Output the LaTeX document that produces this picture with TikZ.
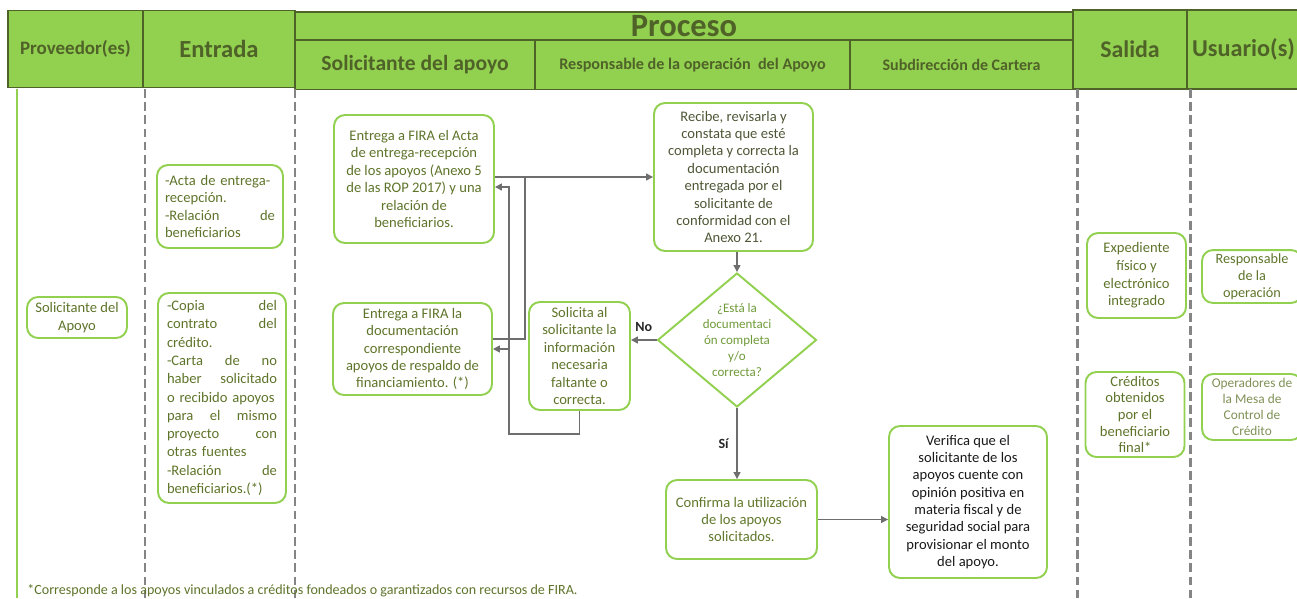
\documentclass[tikz,border=0pt]{standalone}
\usepackage{fontspec}
\setmainfont{Carlito}
\usepackage{tikz}
\usetikzlibrary{positioning, shapes.geometric, arrows.meta}
\definecolor{hdrfill}{HTML}{92D050}
\definecolor{hdrline}{HTML}{4F6228}
\definecolor{boxline}{HTML}{92D050}
\definecolor{olive}{HTML}{5E742A}
\definecolor{darkolive}{HTML}{4E5636}
\definecolor{lightolive}{HTML}{6F9A38}
\definecolor{conngray}{HTML}{6E6E6E}
\definecolor{lanegray}{HTML}{858585}

\begin{document}
\begin{tikzpicture}[x=0.02cm, y=-0.02cm,
    hdr/.style={draw=hdrline, fill=hdrfill, line width=1.1pt, inner sep=0pt, text=hdrline, font=\bfseries\fontsize{#1}{#1}\selectfont}, % celdas del encabezado
    box/.style={draw=boxline, line width=1.1pt, rounded corners=0.22cm, align=center, inner sep=2pt, text=olive, font=\fontsize{8.3}{9.9}\selectfont},
    lane/.style={draw=lanegray, line width=1.7pt, dash pattern=on 5pt off 2.5pt},
    link/.style={draw=conngray, line width=0.8pt},
    linkarr/.style={link, -{Triangle[length=4pt,width=4pt]}},
    lbl/.style={font=\bfseries\fontsize{8}{9}\selectfont, text=black!85}
    ]
\useasboundingbox (0,0) rectangle (1297,598);

% encabezado
\node[hdr=10.8, minimum width=2.7cm, minimum height=1.54cm] (hprov) at (75.5,49) {Proveedor(es)};
\node[hdr=14, minimum width=3.04cm, minimum height=1.54cm] (hent) at (219,49) {Entrada};
\node[hdr=18.5, minimum width=15.56cm, minimum height=0.56cm] (hproc) at (684,26) {Proceso};
\node[hdr=12.3, minimum width=4.8cm, minimum height=0.98cm] (hsol) at (415,65) {Solicitante del apoyo};
\node[hdr=9.2, minimum width=6.3cm, minimum height=0.98cm] (hresp) at (692.5,65) {Responsable de la operación\ \ del Apoyo};
\node[hdr=9.1, minimum width=4.46cm, minimum height=0.98cm] (hsub) at (961.5,65) {Subdirección\ de Cartera};
\node[hdr=13.6, minimum width=2.28cm, minimum height=1.57cm] (hsal) at (1130,49.5) {Salida};
\node[hdr=13.8, minimum width=2.26cm, minimum height=1.57cm] (husr) at (1243.5,49.5) {Usuario(s)};

% carriles
\draw[boxline, line width=1.1pt] (17,89) -- (17,598);
\draw[lane] (145,89) -- (145,598);
\draw[lane] (295,89) -- (295,598);
\draw[lane] (1077,89) -- (1077,598);
\draw[lane] (1190,89) -- (1190,598);

\node[box, minimum width=2cm, minimum height=0.82cm] (prov) at (77,317.5) {Solicitante del\\Apoyo};

\node[box, align=left, text width=2.2cm, inner xsep=0.16cm, minimum height=1.66cm] (in1) at (220,206.5)
  {-Acta de entrega-\\recepción.\\-Relación\hfill de\\beneficiarios};
\node[box, align=left, text width=2.2cm, inner xsep=0.18cm, minimum height=4.2cm, font=\fontsize{8.3}{10.4}\selectfont] (in2) at (222,398)
  {-Copia\hfill del\\contrato\hfill del\\crédito.\\-Carta\hfill de\hfill no\\haber\hfill solicitado\\o recibido apoyos\\para\hfill el\hfill mismo\\proyecto\hfill con\\otras fuentes\\-Relación\hfill de\\beneficiarios.(*)};

\node[box, minimum width=3.2cm, minimum height=2.56cm] (entrega1) at (414,179)
  {Entrega a FIRA el Acta\\de entrega-recepción\\de los apoyos (Anexo 5\\de las ROP 2017) y una\\relación de\\beneficiarios.};
\node[box, minimum width=3.18cm, minimum height=1.84cm] (entrega2) at (412.5,349)
  {Entrega a FIRA la\\documentación\\correspondiente\\apoyos de respaldo de\\financiamiento. (*)};
\node[box, minimum width=2.02cm, minimum height=2.16cm] (solicita) at (579.5,356)
  {Solicita al\\solicitante la\\información\\necesaria\\faltante o\\correcta.};
\node[box, text=darkolive, inner xsep=1pt, minimum width=3.18cm, minimum height=2.96cm] (recibe) at (733.5,177)
  {Recibe, revisarla y\\constata que esté\\completa y correcta la\\documentación\\entregada por el\\solicitante de\\conformidad con el\\Anexo 21.};
\node[box, diamond, rounded corners=0pt, shape aspect=1.2, inner sep=0pt, minimum width=3.18cm, minimum height=2.68cm,
  text=lightolive, font=\fontsize{7.4}{9}\selectfont] (decide) at (737,340)
  {¿Está la\\documentaci\\ón completa\\y/o\\correcta?};
\node[box, text=olive!90!lightolive, minimum width=3.02cm, minimum height=1.58cm] (confirma) at (741.5,519.5)
  {Confirma la utilización\\de los apoyos\\solicitados.};
\node[box, text=black!90, minimum width=3.16cm, minimum height=3.04cm] (verifica) at (968,502)
  {Verifica que el\\solicitante de los\\apoyos cuente con\\opinión positiva en\\materia fiscal y de\\seguridad social para\\provisionar el monto\\del apoyo.};

\node[box, minimum width=1.98cm, minimum height=1.7cm, font=\fontsize{8.3}{10}\selectfont] (expediente) at (1136.5,275.5)
  {Expediente\\físico y\\electrónico\\integrado};
\node[box, inner sep=1pt, minimum width=1.98cm, minimum height=1.7cm, font=\fontsize{8.3}{9.5}\selectfont] (creditos) at (1135,414.5)
  {Créditos\\obtenidos\\por el\\beneficiario\\final*};
\node[box, minimum width=2cm, minimum height=1.02cm, font=\fontsize{8.1}{9.6}\selectfont] (respons) at (1252,276.5)
  {Responsable\\de la\\operación};
\node[box, text=olive!80!white, minimum width=2cm, minimum height=1.32cm, font=\fontsize{7.6}{9}\selectfont] (operadores) at (1252,407)
  {Operadores de\\la Mesa de\\Control de\\Crédito};

% conectores
\coordinate (out1) at ([yshift=0.04cm]entrega1.east);
\coordinate (merge) at (out1 -| 525,0);
\coordinate (ret) at (509,434);
\draw[linkarr] (out1) -- (out1 -| recibe.west);
\draw[link] ([yshift=0.2cm]entrega2.east) -| (merge);
\draw[linkarr] (solicita.south) |- (ret) |- ([yshift=-0.16cm]entrega1.east);
\draw[linkarr] (ret |- entrega2.east) -- (entrega2.east);
\draw[linkarr] (recibe.south -| decide.north) -- (decide.north);
\draw[linkarr] (decide.west) -- (decide.west -| solicita.east) node[lbl, midway, above=1pt] {No};
\draw[linkarr] (decide.south) -- (decide.south |- confirma.north) node[lbl, midway, left=1pt] {Sí};
\draw[linkarr] (confirma.east) -- (confirma.east -| verifica.west);

\node[anchor=base west, inner sep=0pt, text=olive, font=\fontsize{8}{9}\selectfont] (nota) at (27,594)
  {*Corresponde a los apoyos vinculados a créditos fondeados o garantizados con recursos de FIRA.};
\end{tikzpicture}
\end{document}
